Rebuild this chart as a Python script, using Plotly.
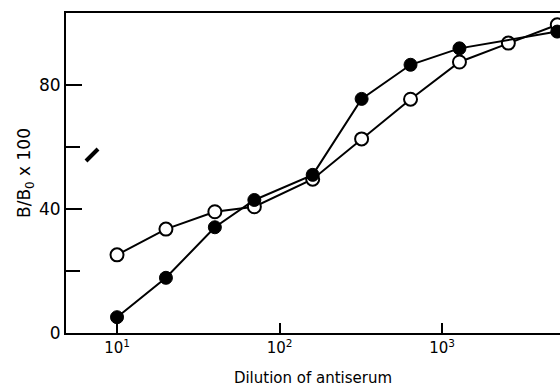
import plotly.graph_objects as go

# Data
dilution_filled = [10, 20, 40, 70, 160, 320, 640, 1280, 5120]
binding_filled = [5.1, 17.8, 34.1, 42.9, 51.0, 75.5, 86.5, 91.8, 97.2]

dilution_open = [10, 20, 40, 70, 160, 320, 640, 1280, 2560, 5120]
binding_open = [25.2, 33.5, 39.1, 40.7, 49.6, 62.6, 75.4, 87.4, 93.5, 99.4]

x_tickvals = [10, 100, 1000]
x_ticktext = ["10<sup>1</sup>", "10<sup>2</sup>", "10<sup>3</sup>"]
y_tickvals = [0, 40, 80]
y_minor_tickvals = [20, 60]

FONT = "DejaVu Sans"

fig = go.Figure()
fig.add_trace(go.Scatter(
    x=dilution_open, y=binding_open, mode="lines+markers",
    line=dict(color="black", width=2),
    marker=dict(symbol="circle", size=13, color="white",
                line=dict(color="black", width=2)),
    showlegend=False,
))
fig.add_trace(go.Scatter(
    x=dilution_filled, y=binding_filled, mode="lines+markers",
    line=dict(color="black", width=2),
    marker=dict(symbol="circle", size=13, color="black",
                line=dict(color="black", width=1)),
    showlegend=False,
))

# scan artifact (small slash)
fig.add_shape(type="line", xref="paper", yref="paper",
              x0=0.0405, y0=0.5375, x1=0.0648, y1=0.575,
              line=dict(color="black", width=4))

fig.update_layout(
    width=560, height=387,
    margin=dict(l=66, r=0, t=13, b=54),
    paper_bgcolor="white", plot_bgcolor="white",
    font=dict(family=FONT, color="black"),
    xaxis=dict(
        type="log", range=[0.686, 3.726],
        tickvals=x_tickvals, ticktext=x_ticktext,
        ticks="inside", ticklen=10, tickwidth=2, tickcolor="black",
        showline=True, linecolor="black", linewidth=2, mirror=True,
        showgrid=False, zeroline=False,
        tickfont=dict(size=15, family=FONT),
        title=dict(text="Dilution of antiserum", font=dict(size=15, family=FONT), standoff=18),
    ),
    yaxis=dict(
        range=[0, 103.2],
        tickvals=y_tickvals,
        ticks="inside", ticklen=16, tickwidth=2, tickcolor="black",
        minor=dict(tickvals=y_minor_tickvals, ticks="inside", ticklen=14,
                   tickwidth=2, tickcolor="black", showgrid=False),
        showline=True, linecolor="black", linewidth=2,
        showgrid=False, zeroline=False,
        tickfont=dict(size=17, family=FONT),
        title=dict(text="B/B<sub>0</sub> x 100", font=dict(size=17, family=FONT), standoff=4),
    ),
)

fig.write_html("out.html")
